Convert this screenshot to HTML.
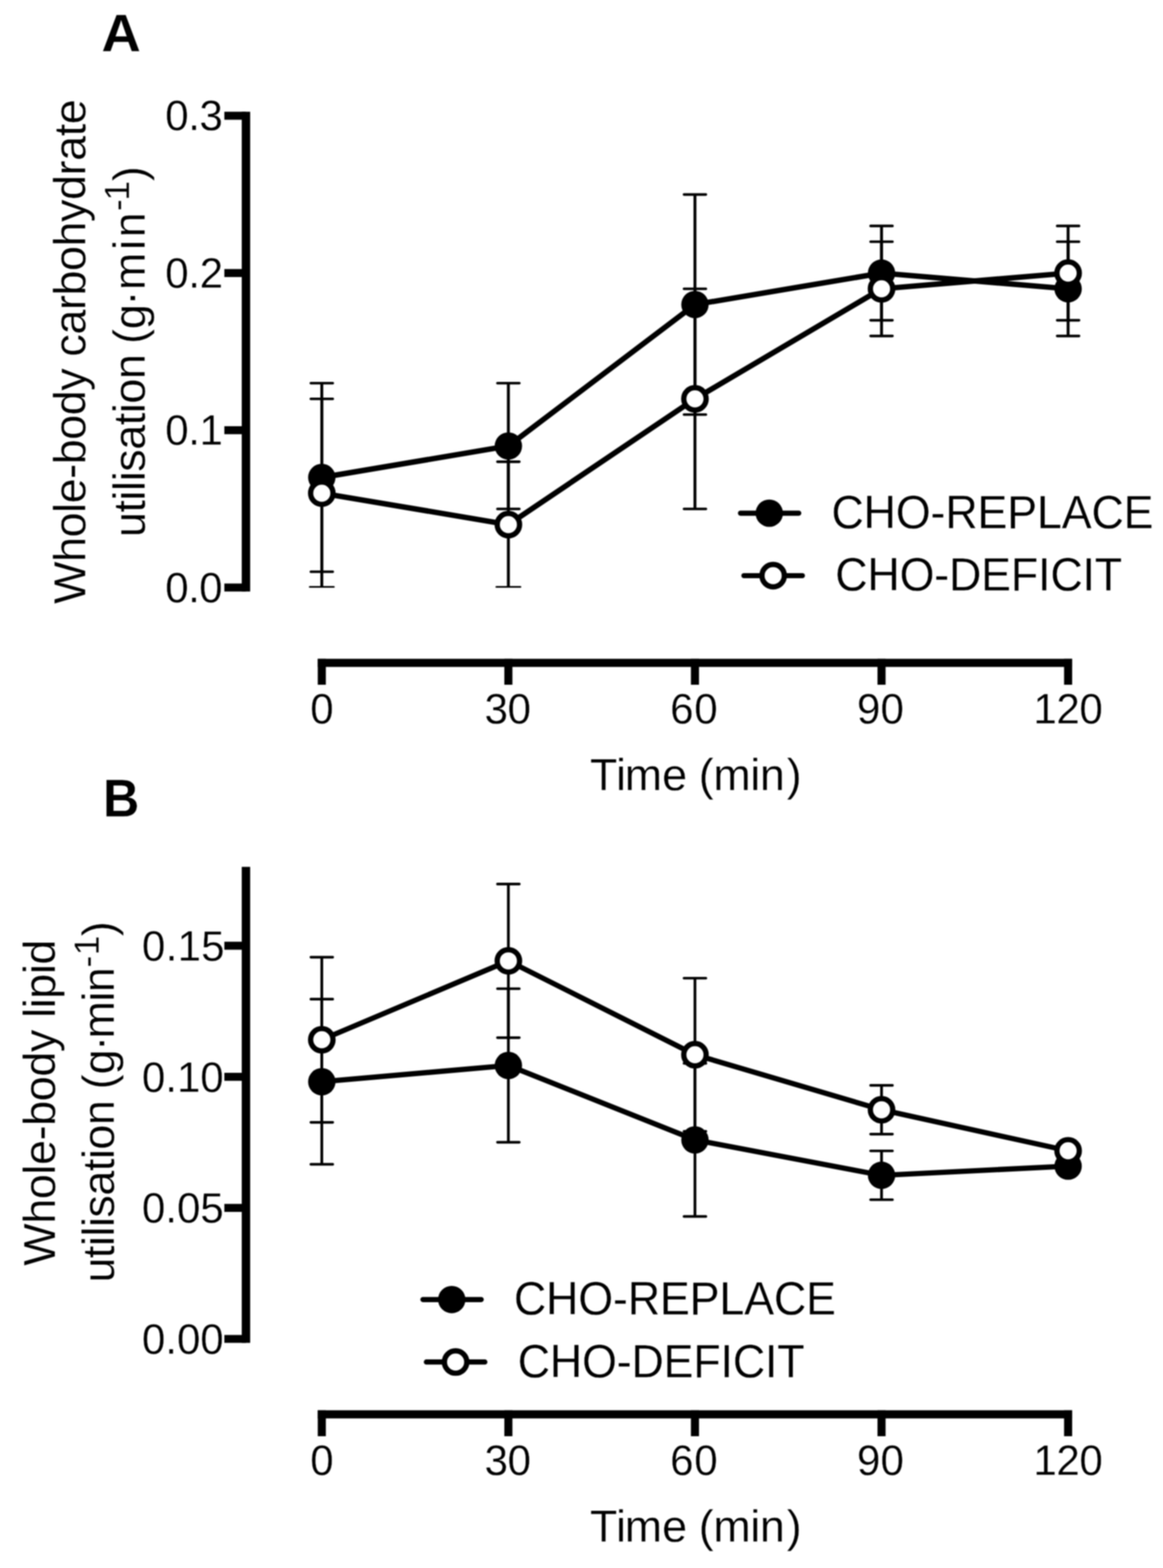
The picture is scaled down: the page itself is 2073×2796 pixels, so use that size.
<!DOCTYPE html>
<html lang="en">
<head>
<meta charset="utf-8">
<title>Whole-body carbohydrate and lipid utilisation</title>
<style>
html,body{margin:0;padding:0;background:#fff;}
body{width:2073px;height:2796px;overflow:hidden;}
svg{display:block;filter:blur(1px);}
svg text{font-family:"Liberation Sans",Arial,Helvetica,sans-serif;fill:#000;stroke:#fff;stroke-width:0.4px;font-kerning:none;white-space:pre;}
</style>
</head>
<body>
<svg width="2073" height="2796" viewBox="0 0 2073 2796">
<rect width="2073" height="2796" fill="#fff"/>
<path d="M438.4 199.2 V1054.70" stroke="#000" stroke-width="15.0" fill="none"/>
<path d="M399.9 1047.60 H438.4" stroke="#000" stroke-width="14.2" fill="none"/>
<text transform="translate(294.47 1073.55) scale(1.0000 1.0200)" font-size="75" letter-spacing="-0.950">0.0</text>
<path d="M399.9 767.20 H438.4" stroke="#000" stroke-width="14.2" fill="none"/>
<text transform="translate(294.47 793.15) scale(1.0000 1.0200)" font-size="75" letter-spacing="-0.750">0.1</text>
<path d="M399.9 486.80 H438.4" stroke="#000" stroke-width="14.2" fill="none"/>
<text transform="translate(294.47 512.75) scale(1.0000 1.0200)" font-size="75" letter-spacing="-0.529">0.2</text>
<path d="M399.9 206.40 H438.4" stroke="#000" stroke-width="14.2" fill="none"/>
<text transform="translate(294.47 232.35) scale(1.0000 1.0200)" font-size="75" letter-spacing="-0.767">0.3</text>
<path d="M566.40 1182.00 H1911.06" stroke="#000" stroke-width="14.5" fill="none"/>
<path d="M573.60 1174.75 V1221.00" stroke="#000" stroke-width="14.4" fill="none"/>
<text transform="translate(552.92 1289.65) scale(1.0000 1.0200)" font-size="75">0</text>
<path d="M906.16 1174.75 V1221.00" stroke="#000" stroke-width="14.4" fill="none"/>
<text transform="translate(863.64 1289.65) scale(1.0000 1.0200)" font-size="75" letter-spacing="-0.637">30</text>
<path d="M1238.73 1174.75 V1221.00" stroke="#000" stroke-width="14.4" fill="none"/>
<text transform="translate(1194.39 1289.65) scale(1.0000 1.0200)" font-size="75" letter-spacing="1.315">60</text>
<path d="M1571.30 1174.75 V1221.00" stroke="#000" stroke-width="14.4" fill="none"/>
<text transform="translate(1527.58 1289.65) scale(1.0000 1.0200)" font-size="75" letter-spacing="0.122">90</text>
<path d="M1903.86 1174.75 V1221.00" stroke="#000" stroke-width="14.4" fill="none"/>
<text transform="translate(1842.09 1289.65) scale(1.0000 1.0200)" font-size="75" letter-spacing="-0.796">120</text>
<text transform="translate(1051.50 1409.40)" font-size="80" dx="0.00 -2.28 -2.28 -0.08 -0.68 -0.68 -0.68 -0.68 -0.68 3.12">Time (min)</text>
<text transform="translate(180.77 92.20) scale(1.0831 1.0514)" font-size="90" font-weight="bold">A</text>
<text transform="translate(151.80 1076.85) rotate(-90)" font-size="80" letter-spacing="-0.739">Whole-body carbohydrate</text>
<path d="M573.60 683.21 V1019.57" stroke="#000" stroke-width="5.2" fill="none"/>
<path d="M554.10 683.21 H593.10" stroke="#000" stroke-width="4.6" stroke-linecap="round" fill="none"/>
<path d="M554.10 1019.57 H593.10" stroke="#000" stroke-width="4.6" stroke-linecap="round" fill="none"/>
<path d="M906.16 683.21 V907.45" stroke="#000" stroke-width="5.2" fill="none"/>
<path d="M886.66 683.21 H925.66" stroke="#000" stroke-width="4.6" stroke-linecap="round" fill="none"/>
<path d="M886.66 907.45 H925.66" stroke="#000" stroke-width="4.6" stroke-linecap="round" fill="none"/>
<path d="M1238.73 346.85 V739.27" stroke="#000" stroke-width="5.2" fill="none"/>
<path d="M1219.23 346.85 H1258.23" stroke="#000" stroke-width="4.6" stroke-linecap="round" fill="none"/>
<path d="M1219.23 739.27 H1258.23" stroke="#000" stroke-width="4.6" stroke-linecap="round" fill="none"/>
<path d="M1571.30 402.91 V571.09" stroke="#000" stroke-width="5.2" fill="none"/>
<path d="M1551.80 402.91 H1590.80" stroke="#000" stroke-width="4.6" stroke-linecap="round" fill="none"/>
<path d="M1551.80 571.09 H1590.80" stroke="#000" stroke-width="4.6" stroke-linecap="round" fill="none"/>
<path d="M1903.86 430.94 V599.12" stroke="#000" stroke-width="5.2" fill="none"/>
<path d="M1884.36 430.94 H1923.36" stroke="#000" stroke-width="4.6" stroke-linecap="round" fill="none"/>
<path d="M1884.36 599.12 H1923.36" stroke="#000" stroke-width="4.6" stroke-linecap="round" fill="none"/>
<path d="M573.60 711.24 V1047.60" stroke="#000" stroke-width="5.2" fill="none"/>
<path d="M554.10 711.24 H593.10" stroke="#000" stroke-width="4.6" stroke-linecap="round" fill="none"/>
<path d="M552.10 1046.40 H595.10" stroke="#000" stroke-width="3.0" stroke-linecap="round" fill="none"/>
<path d="M906.16 823.36 V1047.60" stroke="#000" stroke-width="5.2" fill="none"/>
<path d="M886.66 823.36 H925.66" stroke="#000" stroke-width="4.6" stroke-linecap="round" fill="none"/>
<path d="M884.66 1046.40 H927.66" stroke="#000" stroke-width="3.0" stroke-linecap="round" fill="none"/>
<path d="M1238.73 515.03 V907.45" stroke="#000" stroke-width="5.2" fill="none"/>
<path d="M1219.23 515.03 H1258.23" stroke="#000" stroke-width="4.6" stroke-linecap="round" fill="none"/>
<path d="M1219.23 907.45 H1258.23" stroke="#000" stroke-width="4.6" stroke-linecap="round" fill="none"/>
<path d="M1571.30 430.94 V599.12" stroke="#000" stroke-width="5.2" fill="none"/>
<path d="M1551.80 430.94 H1590.80" stroke="#000" stroke-width="4.6" stroke-linecap="round" fill="none"/>
<path d="M1551.80 599.12 H1590.80" stroke="#000" stroke-width="4.6" stroke-linecap="round" fill="none"/>
<path d="M1903.86 402.91 V571.09" stroke="#000" stroke-width="5.2" fill="none"/>
<path d="M1884.36 402.91 H1923.36" stroke="#000" stroke-width="4.6" stroke-linecap="round" fill="none"/>
<path d="M1884.36 571.09 H1923.36" stroke="#000" stroke-width="4.6" stroke-linecap="round" fill="none"/>
<polyline points="573.60,851.39 906.16,795.33 1238.73,543.06 1571.30,487.00 1903.86,515.03" stroke="#000" stroke-width="9.7" fill="none" stroke-linejoin="round"/>
<polyline points="573.60,879.42 906.16,935.48 1238.73,711.24 1571.30,515.03 1903.86,487.00" stroke="#000" stroke-width="9.7" fill="none" stroke-linejoin="round"/>
<circle cx="573.60" cy="851.39" r="24.4" fill="#000"/>
<circle cx="906.16" cy="795.33" r="24.4" fill="#000"/>
<circle cx="1238.73" cy="543.06" r="24.4" fill="#000"/>
<circle cx="1571.30" cy="487.00" r="24.4" fill="#000"/>
<circle cx="1903.86" cy="515.03" r="24.4" fill="#000"/>
<circle cx="573.60" cy="879.42" r="19.95" fill="#fff" stroke="#000" stroke-width="9.4"/>
<circle cx="906.16" cy="935.48" r="19.95" fill="#fff" stroke="#000" stroke-width="9.4"/>
<circle cx="1238.73" cy="711.24" r="19.95" fill="#fff" stroke="#000" stroke-width="9.4"/>
<circle cx="1571.30" cy="515.03" r="19.95" fill="#fff" stroke="#000" stroke-width="9.4"/>
<circle cx="1903.86" cy="487.00" r="19.95" fill="#fff" stroke="#000" stroke-width="9.4"/>
<path d="M1319.90 915.10 H1423.70" stroke="#000" stroke-width="9.2" stroke-linecap="round" fill="none"/>
<circle cx="1371.20" cy="915.10" r="24.4" fill="#000"/>
<text transform="translate(1481.94 941.50) scale(1.0000 1.0430)" font-size="80" letter-spacing="-0.349">CHO-REPLACE</text>
<path d="M1326.00 1026.50 H1430.20" stroke="#000" stroke-width="9.2" stroke-linecap="round" fill="none"/>
<circle cx="1378.10" cy="1026.50" r="19.95" fill="#fff" stroke="#000" stroke-width="9.4"/>
<text transform="translate(1488.64 1053.40) scale(1.0000 1.0430)" font-size="80" letter-spacing="-0.381">CHO-DEFICIT</text>
<text transform="translate(257.50 957.70) rotate(-90)" font-size="80" dx="0.00 -0.74 -0.74 -0.74 -0.74 -0.74 -0.74 -0.74 -0.74 -0.74 -0.74 -1.94 -1.94 -0.39 -2.69 1.31 4.91 4.61">utilisation (g·min<tspan font-size="63" dx="2.41 -2.49" dy="-27.2">-1</tspan><tspan dx="-0.19" dy="27.2">)</tspan></text>
<path d="M438.4 1545.8 V2394.60" stroke="#000" stroke-width="15.0" fill="none"/>
<path d="M399.9 2387.50 H438.4" stroke="#000" stroke-width="14.2" fill="none"/>
<text transform="translate(253.07 2414.15) scale(1.0000 1.0200)" font-size="75" letter-spacing="-0.104">0.00</text>
<path d="M399.9 2153.80 H438.4" stroke="#000" stroke-width="14.2" fill="none"/>
<text transform="translate(253.07 2180.45) scale(1.0000 1.0200)" font-size="75" letter-spacing="-0.100">0.05</text>
<path d="M399.9 1920.10 H438.4" stroke="#000" stroke-width="14.2" fill="none"/>
<text transform="translate(253.07 1946.75) scale(1.0000 1.0200)" font-size="75" letter-spacing="-0.104">0.10</text>
<path d="M399.9 1686.40 H438.4" stroke="#000" stroke-width="14.2" fill="none"/>
<text transform="translate(253.07 1713.05) scale(1.0000 1.0200)" font-size="75" letter-spacing="0.402">0.15</text>
<path d="M566.40 2522.00 H1911.06" stroke="#000" stroke-width="14.5" fill="none"/>
<path d="M573.60 2514.75 V2561.00" stroke="#000" stroke-width="14.4" fill="none"/>
<text transform="translate(552.92 2629.65) scale(1.0000 1.0200)" font-size="75">0</text>
<path d="M906.16 2514.75 V2561.00" stroke="#000" stroke-width="14.4" fill="none"/>
<text transform="translate(863.64 2629.65) scale(1.0000 1.0200)" font-size="75" letter-spacing="-0.637">30</text>
<path d="M1238.73 2514.75 V2561.00" stroke="#000" stroke-width="14.4" fill="none"/>
<text transform="translate(1194.39 2629.65) scale(1.0000 1.0200)" font-size="75" letter-spacing="1.315">60</text>
<path d="M1571.30 2514.75 V2561.00" stroke="#000" stroke-width="14.4" fill="none"/>
<text transform="translate(1527.58 2629.65) scale(1.0000 1.0200)" font-size="75" letter-spacing="0.122">90</text>
<path d="M1903.86 2514.75 V2561.00" stroke="#000" stroke-width="14.4" fill="none"/>
<text transform="translate(1842.09 2629.65) scale(1.0000 1.0200)" font-size="75" letter-spacing="-0.796">120</text>
<text transform="translate(1051.50 2749.40)" font-size="80" dx="0.00 -2.28 -2.28 -0.08 -0.68 -0.68 -0.68 -0.68 -0.68 3.12">Time (min)</text>
<text transform="translate(183.82 1455.60) scale(0.9929 1.0498)" font-size="90" font-weight="bold">B</text>
<text transform="translate(97.90 2256.95) rotate(-90)" font-size="80" letter-spacing="-0.660">Whole-body lipid</text>
<path d="M573.60 1781.63 V2076.13" stroke="#000" stroke-width="4.9" fill="none"/>
<path d="M554.10 1781.63 H593.10" stroke="#000" stroke-width="4.6" stroke-linecap="round" fill="none"/>
<path d="M554.10 2076.13 H593.10" stroke="#000" stroke-width="4.6" stroke-linecap="round" fill="none"/>
<path d="M906.16 1762.93 V2036.86" stroke="#000" stroke-width="4.9" fill="none"/>
<path d="M886.66 1762.93 H925.66" stroke="#000" stroke-width="4.6" stroke-linecap="round" fill="none"/>
<path d="M886.66 2036.86 H925.66" stroke="#000" stroke-width="4.6" stroke-linecap="round" fill="none"/>
<path d="M1238.73 1896.16 V2169.16" stroke="#000" stroke-width="4.9" fill="none"/>
<path d="M1219.23 1896.16 H1258.23" stroke="#000" stroke-width="4.6" stroke-linecap="round" fill="none"/>
<path d="M1219.23 2169.16 H1258.23" stroke="#000" stroke-width="4.6" stroke-linecap="round" fill="none"/>
<path d="M1571.30 2052.29 V2139.24" stroke="#000" stroke-width="4.9" fill="none"/>
<path d="M1551.80 2052.29 H1590.80" stroke="#000" stroke-width="4.6" stroke-linecap="round" fill="none"/>
<path d="M1551.80 2139.24 H1590.80" stroke="#000" stroke-width="4.6" stroke-linecap="round" fill="none"/>
<path d="M573.60 1706.83 V2001.34" stroke="#000" stroke-width="4.9" fill="none"/>
<path d="M554.10 1706.83 H593.10" stroke="#000" stroke-width="4.6" stroke-linecap="round" fill="none"/>
<path d="M554.10 2001.34 H593.10" stroke="#000" stroke-width="4.6" stroke-linecap="round" fill="none"/>
<path d="M906.16 1576.41 V1850.34" stroke="#000" stroke-width="4.9" fill="none"/>
<path d="M886.66 1576.41 H925.66" stroke="#000" stroke-width="4.6" stroke-linecap="round" fill="none"/>
<path d="M886.66 1850.34 H925.66" stroke="#000" stroke-width="4.6" stroke-linecap="round" fill="none"/>
<path d="M1238.73 1744.23 V2017.23" stroke="#000" stroke-width="4.9" fill="none"/>
<path d="M1219.23 1744.23 H1258.23" stroke="#000" stroke-width="4.6" stroke-linecap="round" fill="none"/>
<path d="M1219.23 2017.23 H1258.23" stroke="#000" stroke-width="4.6" stroke-linecap="round" fill="none"/>
<path d="M1571.30 1935.42 V2022.37" stroke="#000" stroke-width="4.9" fill="none"/>
<path d="M1551.80 1935.42 H1590.80" stroke="#000" stroke-width="4.6" stroke-linecap="round" fill="none"/>
<path d="M1551.80 2022.37 H1590.80" stroke="#000" stroke-width="4.6" stroke-linecap="round" fill="none"/>
<polyline points="573.60,1928.88 906.16,1899.90 1238.73,2032.66 1571.30,2095.77 1903.86,2079.40" stroke="#000" stroke-width="9.3" fill="none" stroke-linejoin="round"/>
<polyline points="573.60,1854.08 906.16,1713.38 1238.73,1880.73 1571.30,1978.90 1903.86,2052.06" stroke="#000" stroke-width="9.3" fill="none" stroke-linejoin="round"/>
<circle cx="573.60" cy="1928.88" r="24.4" fill="#000"/>
<circle cx="906.16" cy="1899.90" r="24.4" fill="#000"/>
<circle cx="1238.73" cy="2032.66" r="24.4" fill="#000"/>
<circle cx="1571.30" cy="2095.77" r="24.4" fill="#000"/>
<circle cx="1903.86" cy="2079.40" r="24.4" fill="#000"/>
<circle cx="573.60" cy="1854.08" r="19.95" fill="#fff" stroke="#000" stroke-width="9.4"/>
<circle cx="906.16" cy="1713.38" r="19.95" fill="#fff" stroke="#000" stroke-width="9.4"/>
<circle cx="1238.73" cy="1880.73" r="19.95" fill="#fff" stroke="#000" stroke-width="9.4"/>
<circle cx="1571.30" cy="1978.90" r="19.95" fill="#fff" stroke="#000" stroke-width="9.4"/>
<circle cx="1903.86" cy="2052.06" r="19.95" fill="#fff" stroke="#000" stroke-width="9.4"/>
<path d="M753.90 2317.30 H857.70" stroke="#000" stroke-width="9.2" stroke-linecap="round" fill="none"/>
<circle cx="805.20" cy="2317.30" r="24.4" fill="#000"/>
<text transform="translate(915.94 2344.30) scale(1.0000 1.0430)" font-size="80" letter-spacing="-0.349">CHO-REPLACE</text>
<path d="M760.00 2428.70 H864.20" stroke="#000" stroke-width="9.2" stroke-linecap="round" fill="none"/>
<circle cx="812.10" cy="2428.70" r="19.95" fill="#fff" stroke="#000" stroke-width="9.4"/>
<text transform="translate(922.64 2456.20) scale(1.0000 1.0430)" font-size="80" letter-spacing="-0.381">CHO-DEFICIT</text>
<text transform="translate(202.70 2287.10) rotate(-90)" font-size="80" dx="0.00 -0.82 -0.82 -0.82 -0.82 -0.82 -0.82 -0.82 -0.82 -0.82 -0.82 -1.45 -1.45 0.05 -2.85 -4.45 -0.75 -1.05">utilisation (g·min<tspan font-size="63" dx="-0.55 0.75" dy="-27.2">-1</tspan><tspan dx="-1.05" dy="27.2">)</tspan></text>
</svg>
</body>
</html>
